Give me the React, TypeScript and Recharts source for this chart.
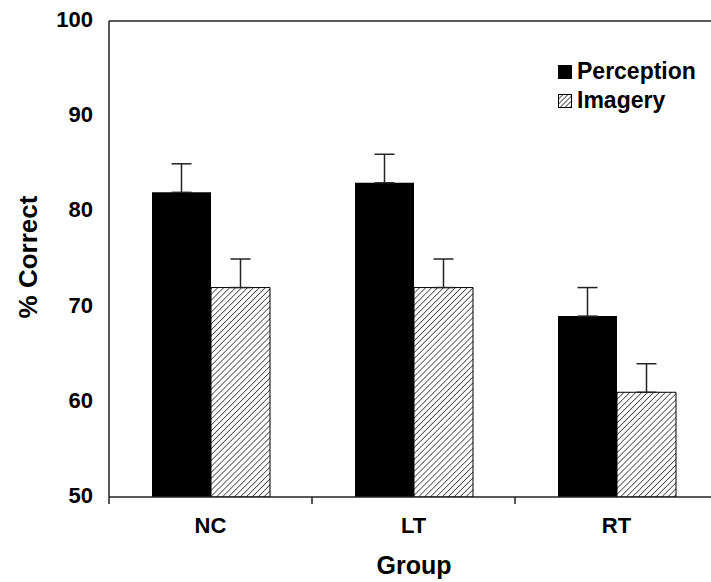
import { BarChart, Bar, XAxis, YAxis, ErrorBar, ReferenceLine } from 'recharts'

const groups = ['NC', 'LT', 'RT']
const perception = [82, 83, 69]
const imagery = [72, 72, 61]
const perceptionErr = [3, 3, 3]
const imageryErr = [3, 3, 3]
const yTicks = [50, 60, 70, 80, 90, 100]

const FONT = '"Liberation Sans", Arial, Helvetica, sans-serif'
const BAND = 203

const data = groups.map((g, i) => ({
  group: g,
  perception: perception[i],
  imagery: imagery[i],
  pErr: [0, perceptionErr[i]],
  iErr: [0, imageryErr[i]],
}))

function YTick({ x = 0, y = 0, payload }: { x?: number; y?: number; payload?: { value: number } }) {
  if (!payload) return null
  return (
    <text x={x} y={y} dy={6} textAnchor="end" fontFamily={FONT} fontWeight={700} fontSize={22} fill="#000">
      {payload.value}
    </text>
  )
}

function XTick({ x = 0, payload }: { x?: number; y?: number; payload?: { value: string; index: number } }) {
  if (!payload) return null
  const axisY = 497
  const last = payload.index === groups.length - 1
  return (
    <g>
      <line x1={x - BAND / 2} x2={x - BAND / 2} y1={axisY} y2={axisY + 7} stroke="#222" strokeWidth={1.5} />
      {last && <line x1={x + BAND / 2} x2={x + BAND / 2} y1={axisY} y2={axisY + 7} stroke="#222" strokeWidth={1.5} />}
      <text x={x} y={axisY + 36} textAnchor="middle" fontFamily={FONT} fontWeight={700} fontSize={22} fill="#000">
        {payload.value}
      </text>
    </g>
  )
}

function LegendBox() {
  const row = { display: 'flex', alignItems: 'center', height: 29 }
  const label = { fontFamily: FONT, fontWeight: 700, fontSize: 23, color: '#000', marginLeft: 5 }
  return (
    <div style={{ position: 'absolute', left: 558, top: 57 }}>
      <div style={row}>
        <svg width={14} height={14}><rect x={0} y={0} width={14} height={14} fill="#000" /></svg>
        <span style={label}>Perception</span>
      </div>
      <div style={row}>
        <svg width={14} height={14}>
          <defs>
            <pattern id="hatchLegend" patternUnits="userSpaceOnUse" width={3.5} height={3.5} patternTransform="rotate(45)">
              <rect width={3.5} height={3.5} fill="#fff" />
              <line x1={0} y1={0} x2={0} y2={3.5} stroke="#000" strokeWidth={1.3} />
            </pattern>
          </defs>
          <rect x={0.5} y={0.5} width={13} height={13} fill="url(#hatchLegend)" stroke="#000" strokeWidth={1} />
        </svg>
        <span style={label}>Imagery</span>
      </div>
    </div>
  )
}

export default function App() {
  return (
    <div style={{ position: 'absolute', left: 0, top: 0, width: 711, height: 582, overflow: 'hidden', background: '#fff' }}>
      <BarChart
        width={720}
        height={582}
        data={data}
        margin={{ top: 21, right: 2, bottom: 0, left: 0 }}
        barCategoryGap={43}
        barGap={0}
      >
        <defs>
          <pattern id="hatch" patternUnits="userSpaceOnUse" width={4.2} height={4.2} patternTransform="rotate(45)">
            <rect width={4.2} height={4.2} fill="#fff" />
            <line x1={0} y1={0} x2={0} y2={4.2} stroke="#000" strokeWidth={1.2} />
          </pattern>
        </defs>
        <YAxis
          domain={[50, 100]}
          ticks={yTicks}
          width={109}
          axisLine={{ stroke: '#222', strokeWidth: 1.5 }}
          tickLine={false}
          tickSize={0}
          tickMargin={16}
          tick={(p: object) => <YTick {...(p as object)} />}
          interval={0}
          allowDataOverflow
        />
        <XAxis
          dataKey="group"
          height={85}
          axisLine={{ stroke: '#222', strokeWidth: 1.5 }}
          tickLine={false}
          tick={(p: object) => <XTick {...(p as object)} />}
          interval={0}
        />
        <ReferenceLine y={100} stroke="#222" strokeWidth={1.5} />
        <Bar dataKey="perception" fill="#000" isAnimationActive={false}>
          <ErrorBar dataKey="pErr" width={10} stroke="#222" strokeWidth={1.5} direction="y" />
        </Bar>
        <Bar dataKey="imagery" fill="url(#hatch)" stroke="#000" strokeWidth={1} isAnimationActive={false}>
          <ErrorBar dataKey="iErr" width={10} stroke="#222" strokeWidth={1.5} direction="y" />
        </Bar>
      </BarChart>
      <LegendBox />
      <div
        style={{
          position: 'absolute', left: 28, top: 257, transform: 'translate(-50%, -50%) rotate(-90deg)',
          fontFamily: FONT, fontWeight: 700, fontSize: 26, whiteSpace: 'nowrap', color: '#000',
        }}
      >
        % Correct
      </div>
      <div
        style={{
          position: 'absolute', left: 414, top: 565, transform: 'translate(-50%, -50%)',
          fontFamily: FONT, fontWeight: 700, fontSize: 25, whiteSpace: 'nowrap', color: '#000',
        }}
      >
        Group
      </div>
    </div>
  )
}
